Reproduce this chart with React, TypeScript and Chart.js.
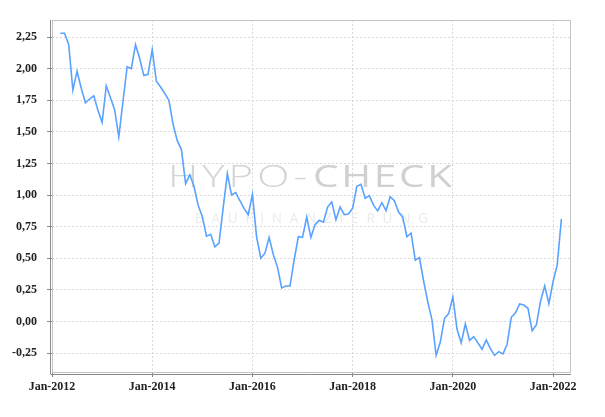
import React, { useEffect, useRef } from "react";
import { Chart, registerables } from "chart.js";

Chart.register(...registerables);

// Monthly series, first value = Mar 2012 (month index 2 counted from Jan 2012)
const firstMonthIndex = 2;
const values: number[] = [
  2.28, 2.28, 2.19, 1.83, 1.98, 1.845, 1.73, 1.76, 1.785, 1.67,
  1.575, 1.865, 1.77, 1.675, 1.46, 1.74, 2.015, 2.0, 2.19, 2.08,
  1.945, 1.955, 2.15, 1.9, 1.855, 1.805, 1.75, 1.56, 1.43, 1.36,
  1.09, 1.16, 1.07, 0.92, 0.83, 0.675, 0.69, 0.59, 0.62, 0.9,
  1.17, 1.0, 1.02, 0.955, 0.895, 0.845, 1.005, 0.67, 0.5, 0.54,
  0.665, 0.53, 0.43, 0.265, 0.28, 0.28, 0.487, 0.67, 0.665, 0.825,
  0.665, 0.765, 0.8, 0.785, 0.905, 0.945, 0.805, 0.905, 0.845, 0.85,
  0.895, 1.07, 1.085, 0.975, 0.995, 0.92, 0.875, 0.94, 0.877, 0.987,
  0.956, 0.865, 0.825, 0.67, 0.7, 0.485, 0.505, 0.32, 0.155, 0.012,
  -0.268, -0.163, 0.025, 0.062, 0.194, -0.06, -0.17, -0.02, -0.15, -0.12,
  -0.17, -0.22, -0.146, -0.215, -0.268, -0.239, -0.257, -0.18, 0.033, 0.068,
  0.138, 0.13, 0.104, -0.074, -0.028, 0.16, 0.281, 0.14, 0.315, 0.447,
  0.812,
];

const xTickMonths = [0, 24, 48, 72, 96, 120];
const xTickLabels = ["Jan-2012", "Jan-2014", "Jan-2016", "Jan-2018", "Jan-2020", "Jan-2022"];
const yTicks = [-0.25, 0, 0.25, 0.5, 0.75, 1.0, 1.25, 1.5, 1.75, 2.0, 2.25];

const xMin = 0;
const xMax = 124.3;
const yMin = -0.4;
const yMax = 2.385;

// draw text stretched horizontally to span x0..x1, with a natural gap between glyphs
function drawFit(ctx: CanvasRenderingContext2D, text: string, x0: number, x1: number, y: number, gap: number) {
  const chars = Array.from(text);
  const widths = chars.map((c) => ctx.measureText(c).width);
  const natural = widths.reduce((a, b) => a + b, 0) + gap * (chars.length - 1);
  const sx = (x1 - x0) / natural;
  ctx.save();
  ctx.translate(x0, y);
  ctx.scale(sx, 1);
  let x = 0;
  chars.forEach((c, i) => {
    ctx.fillText(c, x, 0);
    x += widths[i] + gap;
  });
  ctx.restore();
}

const watermark = {
  id: "watermark",
  beforeDatasetsDraw(chart: any) {
    const ctx = chart.ctx as CanvasRenderingContext2D;
    ctx.save();
    ctx.textBaseline = "alphabetic";
    ctx.textAlign = "left";
    ctx.font = "300 31px 'Open Sans'";
    ctx.fillStyle = "#d4d4d4";
    drawFit(ctx, "HYPO-", 168, 307, 187, 3);
    ctx.font = "500 31px 'Open Sans'";
    ctx.fillStyle = "#d0d0d0";
    drawFit(ctx, "CHECK", 313, 452, 187, 2);
    ctx.font = "400 14px 'Open Sans'";
    ctx.fillStyle = "#ebebeb";
    drawFit(ctx, "BAUFINANZIERUNG", 195, 428, 223, 8);
    ctx.restore();
  },
};

const frame = {
  id: "frame",
  afterDatasetsDraw(chart: any) {
    const { ctx, chartArea } = chart;
    const { left, right, top, bottom } = chartArea;
    ctx.save();
    ctx.lineWidth = 1;
    ctx.strokeStyle = "#c4c4c4";
    ctx.strokeRect(left + 0.5, top + 0.5, right - left - 1, bottom - top);
    ctx.strokeStyle = "#8c8c8c";
    ctx.beginPath();
    ctx.moveTo(left - 1.5, top);
    ctx.lineTo(left - 1.5, bottom + 2);
    ctx.moveTo(left - 1.5, bottom + 2.5);
    ctx.lineTo(right, bottom + 2.5);
    ctx.stroke();
    ctx.restore();
  },
};

export default function App() {
  const ref = useRef<HTMLCanvasElement | null>(null);

  useEffect(() => {
    if (!ref.current) return;
    const data = values.map((v, i) => ({ x: firstMonthIndex + i, y: v }));
    const chart = new Chart(ref.current, {
      type: "line",
      data: {
        datasets: [
          {
            data,
            borderColor: "#5aa2ff",
            borderWidth: 1.6,
            pointRadius: 0,
            tension: 0,
            fill: false,
          },
        ],
      },
      options: {
        animation: false,
        responsive: false,
        devicePixelRatio: 1,
        layout: { padding: { left: 0, top: 20, right: 34, bottom: 0 } },
        plugins: { legend: { display: false }, tooltip: { enabled: false } },
        scales: {
          x: {
            type: "linear",
            min: xMin,
            max: xMax,
            afterBuildTicks: (scale: any) => {
              scale.ticks = xTickMonths.map((v) => ({ value: v }));
            },
            afterFit: (scale: any) => {
              scale.height = 45;
            },
            ticks: {
              autoSkip: false,
              maxRotation: 0,
              padding: 3,
              color: "#222",
              font: { family: "'Liberation Serif', serif", size: 12, weight: "bold" },
              callback: (v: any) => {
                const i = xTickMonths.indexOf(Number(v));
                return i >= 0 ? xTickLabels[i] : "";
              },
            },
            grid: {
              color: "#dadada",
              tickColor: "#888",
              tickLength: 5,
              tickBorderDash: [],
            } as any,
            border: { display: false, dash: [2, 2] } as any,
          },
          y: {
            type: "linear",
            min: yMin,
            max: yMax,
            afterBuildTicks: (scale: any) => {
              scale.ticks = yTicks.map((v) => ({ value: v }));
            },
            afterFit: (scale: any) => {
              scale.width = 52;
            },
            ticks: {
              padding: 10,
              color: "#222",
              font: { family: "'Liberation Serif', serif", size: 12, weight: "bold" },
              callback: (v: any) => Number(v).toFixed(2).replace(".", ","),
            },
            grid: {
              color: "#dadada",
              tickColor: "#888",
              tickLength: 5,
              tickBorderDash: [],
            } as any,
            border: { display: false, dash: [2, 2] } as any,
          },
        },
      },
      plugins: [watermark, frame],
    });
    return () => chart.destroy();
  }, []);

  return (
    <div style={{ position: "fixed", left: 0, top: 0, width: 605, height: 417, background: "#fff" }}>
      <canvas ref={ref} width={605} height={417} style={{ display: "block" }} />
    </div>
  );
}
